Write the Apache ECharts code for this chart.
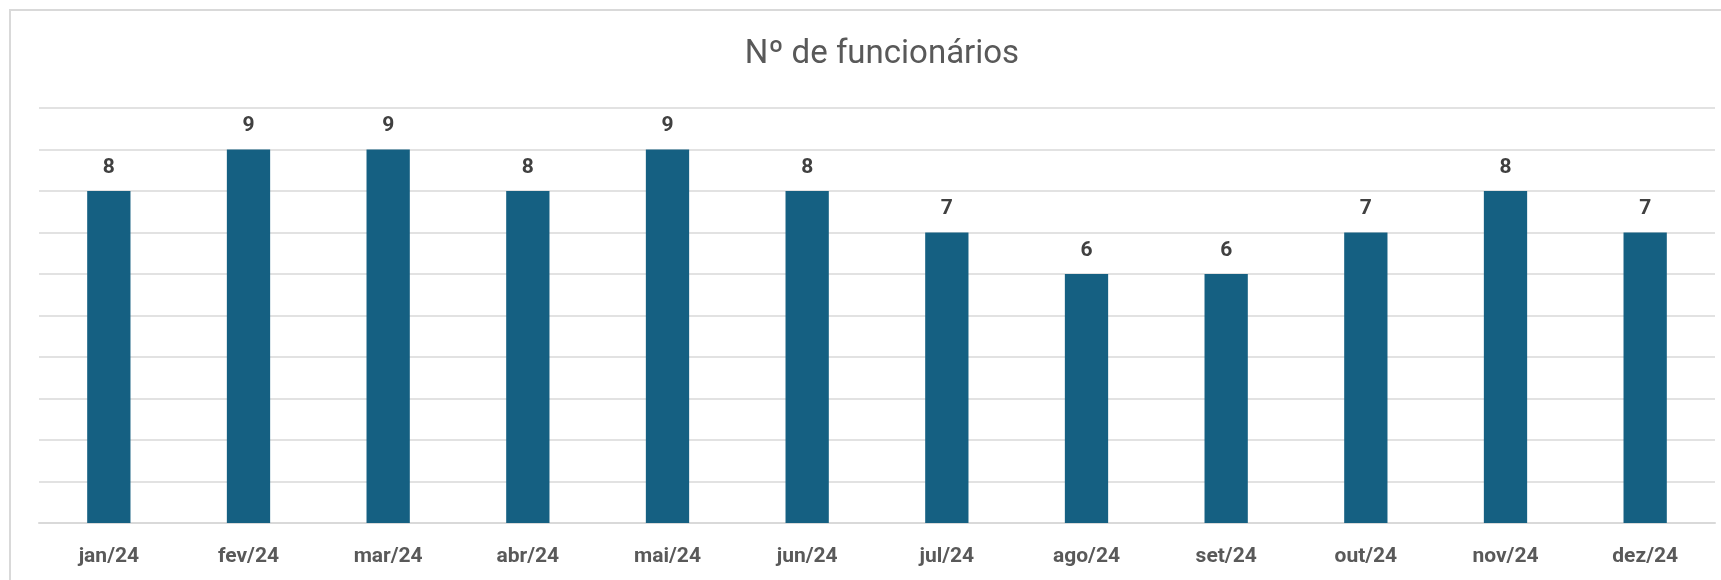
<!DOCTYPE html>
<html>
<head>
<meta charset="utf-8">
<script src="https://cdn.jsdelivr.net/npm/echarts@6/dist/echarts.min.js"></script>
<style>
html,body{margin:0;padding:0;background:#fff;}
#chart{width:1721px;height:580px;}
</style>
</head>
<body>
<div id="chart"></div>
<script>
const titleText = 'Nº de funcionários';
const categories = ['jan/24','fev/24','mar/24','abr/24','mai/24','jun/24','jul/24','ago/24','set/24','out/24','nov/24','dez/24'];
const values = [8,9,9,8,9,8,7,6,6,7,8,7];

const chart = echarts.init(document.getElementById('chart'));
chart.setOption({
  animation: false,
  backgroundColor: '#ffffff',
  graphic: [{
    type: 'rect',
    shape: {x: 10, y: 10, width: 1720, height: 620},
    style: {fill: 'none', stroke: '#d9d9d9', lineWidth: 2},
    silent: true
  }],
  title: {
    text: titleText,
    left: 877,
    textAlign: 'center',
    top: 33,
    textStyle: {fontFamily: 'Roboto', fontSize: 33, fontWeight: 'normal', color: '#595959'}
  },
  grid: {left: 39, right: 6, top: 108, bottom: 57, containLabel: false},
  xAxis: {
    type: 'category',
    data: categories,
    axisLine: {show: true, lineStyle: {color: '#d9d9d9', width: 2}},
    axisTick: {show: false},
    axisLabel: {margin: 23, fontFamily: 'Roboto', fontSize: 21, fontWeight: 'bold', color: '#595959'}
  },
  yAxis: {
    type: 'value',
    min: 0, max: 10, interval: 1,
    axisLabel: {show: false},
    axisLine: {show: false},
    axisTick: {show: false},
    splitLine: {lineStyle: {color: '#d9d9d9', width: 1.5}}
  },
  series: [{
    type: 'bar',
    data: values,
    barWidth: '31%',
    itemStyle: {color: '#156082'},
    label: {show: true, position: 'top', distance: 13, fontFamily: 'Roboto', fontSize: 21, fontWeight: 'bold', color: '#404040'}
  }]
});
</script>
</body>
</html>
